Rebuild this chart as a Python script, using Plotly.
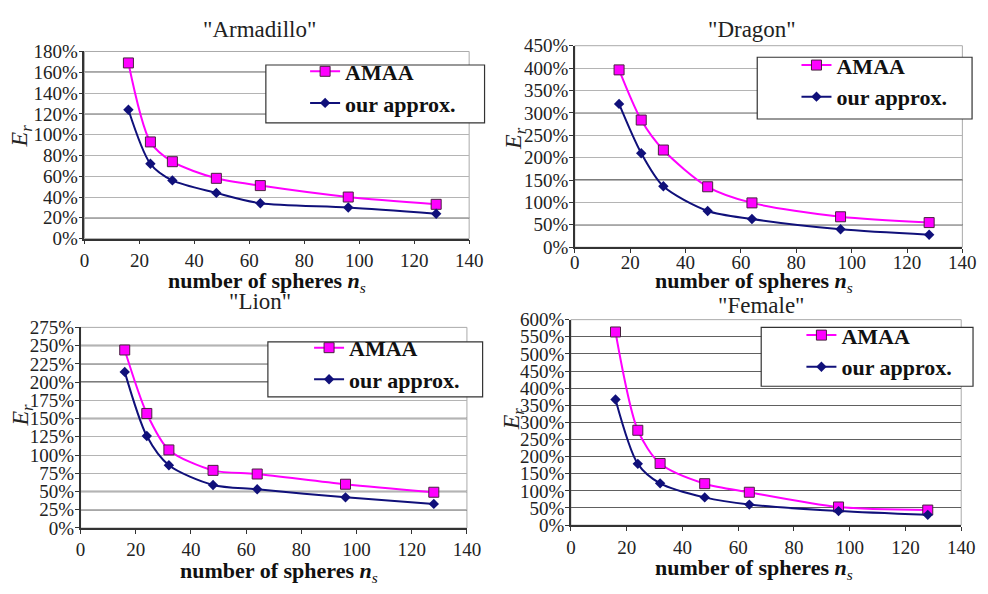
import plotly.graph_objects as go

# ---------------- data ----------------
N_SPHERES = [16, 24, 32, 48, 64, 96, 128]

TITLES = ['"Armadillo"', '"Dragon"', '"Lion"', '"Female"']

ARMADILLO_AMAA = [169, 93, 74, 58, 51, 40, 33]
ARMADILLO_OURS = [124, 72, 56, 44, 34, 30, 24]

DRAGON_AMAA = [396, 284, 217, 135, 99, 68, 55]
DRAGON_OURS = [320, 210, 136, 81, 63, 40, 28]

LION_AMAA = [244, 157, 107, 79, 74, 60, 49]
LION_OURS = [214, 126, 86, 59, 53, 42, 33]

FEMALE_AMAA = [564, 277, 180, 121, 96, 53, 44]
FEMALE_OURS = [367, 179, 122, 81, 60, 41, 30]

Y_MAX = [180, 450, 275, 600]
Y_STEP = [20, 50, 25, 50]
X_TICKS = [0, 20, 40, 60, 80, 100, 120, 140]

SERIES_NAMES = ["AMAA", "our approx."]

# ---------------- styles / layout ----------------
FONT = "Liberation Serif, Times New Roman, Times, serif"
PINK = "#FF00FF"
NAVY = "#10107A"

panels = [
    dict(amaa=ARMADILLO_AMAA, ours=ARMADILLO_OURS,
         xd=[0.082, 0.479], yd=[0.601, 0.9276],
         legend=(0.3097, 0.9293), box=(0.2692, 0.4949, 0.8030, 0.9040),
         title=(0.263, 0.966), xt=(0.270, 0.525), yt=(0.017, 0.78),
         xstand=0, dark=[160, 120, 20], grid="#b4b4b4"),
    dict(amaa=DRAGON_AMAA, ours=DRAGON_OURS,
         xd=[0.588, 0.988], yd=[0.586, 0.9377],
         legend=(0.8168, 0.9402), box=(0.7763, 0.9980, 0.8098, 0.9175),
         title=(0.771, 0.966), xt=(0.773, 0.526), yt=(0.527, 0.776),
         xstand=-7, dark=[300, 150, 50], grid="#b4b4b4"),
    dict(amaa=LION_AMAA, ours=LION_OURS,
         xd=[0.078, 0.4767], yd=[0.096, 0.4461],
         legend=(0.3138, 0.4470), box=(0.2713, 0.4929, 0.3249, 0.4209),
         title=(0.263, 0.492), xt=(0.283, 0.020), yt=(0.018, 0.293),
         xstand=-1, dark=[250, 225, 200, 150, 50, 25], grid="#b4b4b4"),
    dict(amaa=FEMALE_AMAA, ours=FEMALE_OURS,
         xd=[0.584, 0.9868], yd=[0.101, 0.4596],
         legend=(0.8219, 0.4689), box=(0.7804, 0.9990, 0.3434, 0.4461),
         title=(0.780, 0.484), xt=(0.773, 0.025), yt=(0.5245, 0.286),
         xstand=0, dark=[], grid="#606060"),
]

fig = go.Figure()
fig.update_layout(
    width=988, height=594,
    margin=dict(l=0, r=0, t=0, b=0),
    paper_bgcolor="white", plot_bgcolor="white",
    showlegend=True,
    font=dict(family=FONT, color="#222222"),
)

for i, p in enumerate(panels):
    n = i + 1
    sfx = "" if n == 1 else str(n)
    xa, ya = "x" + sfx, "y" + sfx
    leg = "legend" + sfx

    fig.add_trace(go.Scatter(
        x=N_SPHERES, y=p["amaa"], name="<b>" + SERIES_NAMES[0] + "</b>",
        xaxis=xa, yaxis=ya, legend=leg, mode="lines+markers",
        line=dict(color=PINK, width=2, shape="spline", smoothing=0.8),
        marker=dict(symbol="square", size=10, color=PINK,
                    line=dict(color="#4a2040", width=1)),
    ))
    fig.add_trace(go.Scatter(
        x=N_SPHERES, y=p["ours"], name="<b>" + SERIES_NAMES[1] + "</b>",
        xaxis=xa, yaxis=ya, legend=leg, mode="lines+markers",
        line=dict(color=NAVY, width=2, shape="spline", smoothing=0.8),
        marker=dict(symbol="diamond", size=8, color=NAVY),
    ))

    ymax, ystep = Y_MAX[i], Y_STEP[i]
    yvals = list(range(0, ymax + 1, ystep))
    fig.update_layout({
        "xaxis" + sfx: dict(
            domain=p["xd"], anchor=ya, range=[0, 140],
            tickmode="array", tickvals=X_TICKS,
            ticktext=[str(v) for v in X_TICKS],
            showgrid=False, zeroline=False,
            showline=True, linecolor="#333333", linewidth=1.5,
            ticks="outside", ticklen=4, tickcolor="#333333",
            ticklabelstandoff=p["xstand"],
            tickfont=dict(family=FONT, size=19, color="#222222"),
        ),
        "yaxis" + sfx: dict(
            domain=p["yd"], anchor=xa, range=[0, ymax],
            tickmode="array", tickvals=yvals,
            ticktext=[f"{v}%" for v in yvals],
            showgrid=True, gridcolor=p["grid"], gridwidth=1,
            zeroline=False, showline=True, linecolor="#333333", linewidth=1.5,
            ticks="outside", ticklen=4, tickcolor="#333333",
            ticklabelstandoff=-3,
            tickfont=dict(family=FONT, size=19, color="#222222"),
        ),
        leg: dict(
            x=p["legend"][0], y=p["legend"][1], xanchor="left", yanchor="top",
            bgcolor="rgba(0,0,0,0)", borderwidth=0,
            font=dict(family=FONT, size=22, color="#111111"),
            tracegroupgap=0,
        ),
    })

    # plot-area frame
    fig.add_shape(type="rect", xref=xa + " domain", yref=ya + " domain",
                  x0=0, x1=1, y0=0, y1=1,
                  line=dict(color="#aaaaaa", width=1), layer="below")
    # darker gridlines
    for lvl in p["dark"]:
        fig.add_shape(type="line", xref=xa + " domain", yref=ya,
                      x0=0, x1=1, y0=lvl, y1=lvl,
                      line=dict(color="#505050", width=1.5), layer="below")
    # legend frame
    bx = p["box"]
    fig.add_shape(type="rect", xref="paper", yref="paper",
                  x0=bx[0], x1=bx[1], y0=bx[2], y1=bx[3],
                  fillcolor="white", line=dict(color="#333333", width=1.2),
                  layer="above")

    fig.add_annotation(text=TITLES[i], xref="paper", yref="paper",
                       x=p["title"][0], y=p["title"][1],
                       xanchor="center", yanchor="middle", showarrow=False,
                       font=dict(family=FONT, size=23, color="#222222"))
    fig.add_annotation(text="<b>number of spheres <i>n</i></b><sub><i>s</i></sub>",
                       xref="paper", yref="paper",
                       x=p["xt"][0], y=p["xt"][1],
                       xanchor="center", yanchor="middle", showarrow=False,
                       font=dict(family=FONT, size=22, color="#111111"))
    fig.add_annotation(text="<i>E<sub>r</sub></i>", xref="paper", yref="paper",
                       x=p["yt"][0], y=p["yt"][1],
                       xanchor="center", yanchor="middle", textangle=-90,
                       showarrow=False,
                       font=dict(family=FONT, size=24, color="#222222"))

fig.write_html("out.html")
